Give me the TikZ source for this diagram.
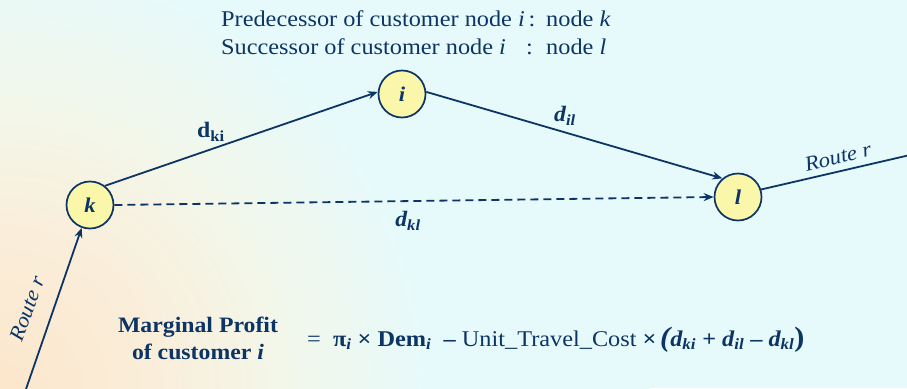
\documentclass[tikz,border=0pt]{standalone}
\usepackage{fontspec}
\setmainfont{Liberation Serif}[FakeStretch=1.08]
\usetikzlibrary{arrows.meta}
\definecolor{navy}{RGB}{12,52,100}
\definecolor{nodefill}{RGB}{250,246,170}
\definecolor{peach}{RGB}{252,230,204}
\definecolor{peachl}{RGB}{250,238,218}
\definecolor{cream}{RGB}{242,247,234}
\definecolor{aqua}{RGB}{230,250,252}
\pgfdeclareradialshading{bgr}{\pgfpoint{0bp}{0bp}}{color(0bp)=(peach); color(6bp)=(peachl); color(11bp)=(cream); color(17bp)=(aqua); color(50bp)=(aqua)}
\newcommand{\sbs}[1]{\textsubscript{#1}}
\begin{document}
\begin{tikzpicture}[x=1pt,y=-1pt,
  cnode/.style={circle,draw=navy,line width=1.7pt,fill=nodefill,minimum size=47pt,inner sep=0pt,font=\fontsize{21}{24}\selectfont\bfseries\itshape,text=navy},
  edge/.style={draw=navy,line width=1.8pt,-{Stealth[length=10pt,width=8pt]}},
  plain/.style={draw=navy,line width=1.8pt},
  lbl/.style={text=navy,inner sep=0pt,font=\fontsize{22}{26}\selectfont},
  eqlbl/.style={text=navy,inner sep=0pt,font=\fontsize{22.5}{26}\selectfont},
  toplbl/.style={text=navy,inner sep=0pt,anchor=base west,font=\fontsize{22.5}{26}\selectfont},
  elbl/.style={text=navy,inner sep=0pt,font=\fontsize{22}{26}\selectfont\bfseries\itshape},
  rlbl/.style={text=navy,inner sep=0pt,font=\fontsize{21}{24}\selectfont\itshape}]
\useasboundingbox (0,0) rectangle (907,388);
\fill[aqua] (0,0) rectangle (907,388);
\begin{scope}
\clip (0,0) rectangle (907,388);
\shade[shading=bgr] (0,388) circle (650);
\end{scope}

\node[cnode] (k) at (90,205) {k};
\node[cnode] (i) at (402,94) {i};
\node[cnode] (l) at (738,197) {l};

\coordinate (rb) at (25,392);
\coordinate (rt) at (910,155);

\draw[edge] (k.52) -- (i.175);
\draw[edge] (i.5) -- (l.130);
\draw[edge,dash pattern=on 8pt off 5pt] (k.east) -- (l.west);
\draw[edge] (rb) -- (k.-110);
\draw[plain] (l.18) -- (rt);

\node[toplbl] (t1) at (221,26) {Predecessor of customer node \textit{i}\,:};
\node[toplbl] (t1b) at (546,26) {node \textit{k}};
\node[toplbl] (t2) at (221,54) {Successor of customer node \textit{i}};
\node[toplbl] (t2c) at (526,54) {:};
\node[toplbl] (t2b) at (546,54) {node \textit{l}};

\node[elbl,font=\fontsize{22}{26}\selectfont\bfseries] (dki) at (211,132) {d\sbs{ki}};
\node[elbl] (dil) at (565,116) {d\sbs{il}};
\node[elbl] (dkl) at (408,221) {d\sbs{kl}};

\node[rlbl,rotate=13] (r1) at (838,157) {Route r};
\node[rlbl,rotate=70] (r2) at (27,309) {Route r};

\node[lbl,font=\fontsize{22}{27}\selectfont\bfseries,align=center] (mp) at (198,338) {Marginal Profit\\of customer \textit{i}};
\node[eqlbl,anchor=base west] (eq) at (307,346) {=\ \ \textbf{π\sbs{\textit{i}}} \textbf{×} \textbf{Dem\sbs{\textit{i}}}\ \ \textbf{–} Unit\_Travel\_Cost \textbf{×}\,\textbf{\textit{\fontsize{28}{28}\selectfont(\fontsize{22.5}{26}\selectfont d\sbs{ki}} + \textit{d\sbs{il}} – \textit{d\sbs{kl}}\fontsize{28}{28}\selectfont)}};
\end{tikzpicture}
\end{document}
